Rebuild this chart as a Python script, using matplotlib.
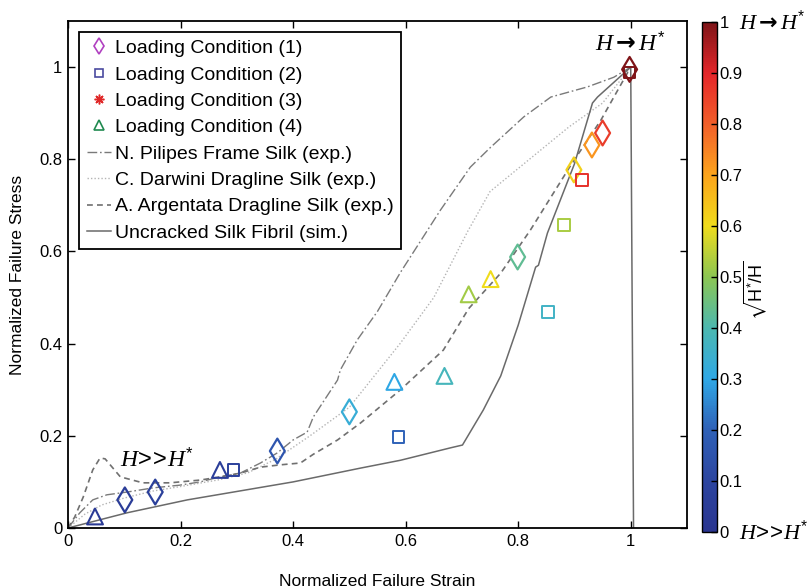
import numpy as np
import matplotlib
matplotlib.use("Agg")
import matplotlib.pyplot as plt
from matplotlib.lines import Line2D
from matplotlib import cm, colors

plt.rcParams['font.family'] = ['Liberation Sans', 'DejaVu Sans']
plt.rcParams['mathtext.fontset'] = 'custom'
plt.rcParams['mathtext.rm'] = 'Liberation Sans'
plt.rcParams['mathtext.sf'] = 'Liberation Sans'
plt.rcParams['mathtext.it'] = 'Liberation Serif:italic'
plt.rcParams['mathtext.bf'] = 'DejaVu Sans:bold'
plt.rcParams['mathtext.fallback'] = 'stix'

# ---- data ----
lc1_x = [0.101, 0.155, 0.372, 0.500, 0.799, 0.899, 0.931, 0.950, 0.998]
lc1_y = [0.061, 0.078, 0.167, 0.252, 0.588, 0.777, 0.831, 0.857, 0.995]
lc1_c = [0.05, 0.07, 0.16, 0.33, 0.43, 0.62, 0.72, 0.86, 1.00]

lc2_x = [0.294, 0.587, 0.853, 0.881, 0.913, 0.998]
lc2_y = [0.126, 0.197, 0.468, 0.657, 0.755, 0.988]
lc2_c = [0.07, 0.20, 0.36, 0.53, 0.88, 1.00]

lc3_x = [0.269, 0.436, 0.525, 0.811, 0.916, 0.998]
lc3_y = [0.182, 0.238, 0.278, 0.697, 0.863, 1.000]
lc3_c = [0.15, 0.24, 0.33, 0.52, 0.80, 1.00]

lc4_x = [0.048, 0.270, 0.580, 0.669, 0.712, 0.751]
lc4_y = [0.025, 0.126, 0.317, 0.330, 0.507, 0.540]
lc4_c = [0.04, 0.06, 0.30, 0.38, 0.52, 0.60]

pil_x = [0.0, 0.021, 0.044, 0.069, 0.105, 0.151, 0.199, 0.235, 0.270, 0.306, 0.342,
         0.372, 0.400, 0.425, 0.436, 0.479, 0.484, 0.514, 0.550, 0.591, 0.662, 0.715,
         0.751, 0.810, 0.858, 0.923, 0.970, 1.0]
pil_y = [0.0, 0.033, 0.061, 0.072, 0.078, 0.087, 0.093, 0.100, 0.111, 0.119, 0.141,
         0.163, 0.191, 0.208, 0.241, 0.321, 0.343, 0.408, 0.470, 0.555, 0.690, 0.783,
         0.826, 0.892, 0.935, 0.957, 0.978, 1.0]

dar_x = [0.0, 0.03, 0.06, 0.10, 0.15, 0.20, 0.27, 0.32, 0.37, 0.43, 0.50, 0.59,
         0.65, 0.71, 0.75, 0.80, 0.89, 0.95, 1.0]
dar_y = [0.0, 0.03, 0.05, 0.065, 0.08, 0.09, 0.105, 0.12, 0.15, 0.20, 0.262, 0.40,
         0.50, 0.643, 0.73, 0.78, 0.87, 0.922, 1.0]

arg_x = [0.0, 0.012, 0.027, 0.044, 0.057, 0.066, 0.093, 0.133, 0.181, 0.235, 0.271,
         0.306, 0.342, 0.377, 0.413, 0.436, 0.479, 0.520, 0.591, 0.667, 0.712, 0.769,
         0.822, 0.894, 0.947, 1.0]
arg_y = [0.0, 0.024, 0.067, 0.126, 0.152, 0.150, 0.111, 0.098, 0.098, 0.104, 0.111,
         0.119, 0.132, 0.137, 0.141, 0.160, 0.191, 0.228, 0.300, 0.386, 0.476, 0.553,
         0.647, 0.788, 0.885, 1.0]

sim_x = [0.0, 0.105, 0.212, 0.400, 0.520, 0.591, 0.680, 0.701, 0.738, 0.769, 0.800,
         0.831, 0.836, 0.852, 0.900, 0.932, 0.941, 1.0, 1.005]
sim_y = [0.0, 0.033, 0.061, 0.100, 0.130, 0.147, 0.174, 0.180, 0.256, 0.330, 0.440,
         0.566, 0.570, 0.640, 0.790, 0.922, 0.935, 1.0, 0.0]

labels = ['Loading Condition (1)', 'Loading Condition (2)', 'Loading Condition (3)',
          'Loading Condition (4)', 'N. Pilipes Frame Silk (exp.)',
          'C. Darwini Dragline Silk (exp.)', 'A. Argentata Dragline Silk (exp.)',
          'Uncracked Silk Fibril (sim.)']
cbar_ticks = [0, 0.1, 0.2, 0.3, 0.4, 0.5, 0.6, 0.7, 0.8, 0.9, 1]
axis_ticks = [0, 0.2, 0.4, 0.6, 0.8, 1]

# colormap resembling the reference colour bar
cmap_colors = ['#2a3590', '#2c45a0', '#2f62b8', '#2fa8e6', '#4cb8b0', '#8cc652',
               '#f0dc1c', '#fca41c', '#f2602a', '#e4262a', '#7e1418']

# ---- figure ----
fig = plt.figure(figsize=(8.11, 5.88), dpi=100)
ax = fig.add_axes([68/811, 60/588, 619/811, 507/588])
cax = fig.add_axes([702/811, 56/588, 15/811, 510/588])

cmap = colors.LinearSegmentedColormap.from_list('refjet', cmap_colors)
norm = colors.Normalize(0, 1)

ax.plot(pil_x, pil_y, color='#7a7a7a', lw=1.0, ls=(0, (7, 2, 1.2, 2)))
ax.plot(dar_x, dar_y, color='#b4b4b4', lw=1.0, ls=(0, (1, 1.5)))
ax.plot(arg_x, arg_y, color='#707070', lw=1.2, ls=(0, (3.5, 2.5)))
ax.plot(sim_x, sim_y, color='#6a6a6a', lw=1.1, ls='-')

ast = (8, 2, 0)
ax.scatter(lc1_x, lc1_y, marker='d', s=160, facecolors='none',
           edgecolors=cmap(norm(np.array(lc1_c))), linewidths=1.6, zorder=3)
ax.scatter(lc2_x, lc2_y, marker='s', s=70, facecolors='none',
           edgecolors=cmap(norm(np.array(lc2_c))), linewidths=1.4, zorder=3)
ax.scatter(lc3_x, lc3_y, marker=ast, s=80, facecolors='none',
           edgecolors=cmap(norm(np.array(lc3_c))), linewidths=1.5, zorder=3)
ax.scatter(lc4_x, lc4_y, marker='^', s=130, facecolors='none',
           edgecolors=cmap(norm(np.array(lc4_c))), linewidths=1.5, zorder=3)

ax.set_xlim(0, 1.1)
ax.set_ylim(0, 1.1)
ax.set_xticks(axis_ticks)
ax.set_yticks(axis_ticks)
ax.set_xticklabels(['0', '0.2', '0.4', '0.6', '0.8', '1'])
ax.set_yticklabels(['0', '0.2', '0.4', '0.6', '0.8', '1'])
ax.tick_params(direction='in', top=True, right=True, length=5, width=1.0,
               labelsize=12, pad=4)
for sp in ax.spines.values():
    sp.set_linewidth(1.3)
ax.set_xlabel('Normalized Failure Strain', fontsize=12.5, labelpad=18)
ax.set_ylabel('Normalized Failure Stress', fontsize=12.5, labelpad=10)

far_txt = r'$H\!>\!\!>\!H^{*}$'
near_txt = r'$H\mathbf{\rightarrow}H^{*}$'
ax.text(0.158, 0.148, far_txt, fontsize=17, ha='center', va='center')
ax.text(1.0, 1.05, near_txt, fontsize=17, ha='center', va='center')

handles = [
    Line2D([], [], marker='d', ls='none', mfc='none', mec='#b040c0', ms=8, mew=1.2),
    Line2D([], [], marker='s', ls='none', mfc='none', mec='#4a4aa0', ms=6, mew=1.2),
    Line2D([], [], marker=ast, ls='none', mfc='none', mec='#e02828', ms=7, mew=1.1),
    Line2D([], [], marker='^', ls='none', mfc='none', mec='#208a50', ms=7, mew=1.2),
    Line2D([], [], color='#7a7a7a', lw=1.0, ls=(0, (7, 2, 1.2, 2))),
    Line2D([], [], color='#b4b4b4', lw=1.0, ls=(0, (1, 1.5))),
    Line2D([], [], color='#707070', lw=1.2, ls=(0, (3.5, 2.5))),
    Line2D([], [], color='#6a6a6a', lw=1.1, ls='-'),
]
leg = ax.legend(handles, labels, loc='upper left', bbox_to_anchor=(0.018, 0.978),
                fontsize=14, frameon=True, fancybox=False, framealpha=1,
                edgecolor='black', handlelength=1.25, handletextpad=0.2,
                labelspacing=0.45, borderpad=0.38, borderaxespad=0.0)
leg.get_frame().set_linewidth(1.3)

sm = cm.ScalarMappable(norm=norm, cmap=cmap)
cb = fig.colorbar(sm, cax=cax, ticks=cbar_ticks)
cb.ax.set_yticklabels(['0', '0.1', '0.2', '0.3', '0.4', '0.5', '0.6', '0.7', '0.8', '0.9', '1'])
cb.ax.tick_params(direction='in', length=4, width=1.0, labelsize=12, pad=2)
cb.outline.set_linewidth(1.0)
cax.text(2.45, 1.0, near_txt, transform=cax.transAxes, fontsize=16,
         ha='left', va='center')
cax.text(2.45, 0.0, far_txt, transform=cax.transAxes, fontsize=16,
         ha='left', va='center')
fig.text(755/811, 1 - 290/588, r'$\sqrt{\mathrm{H}^{*}/\mathrm{H}}$', rotation=90,
         fontsize=13, ha='center', va='center')

fig.savefig('out.png', dpi=100)
